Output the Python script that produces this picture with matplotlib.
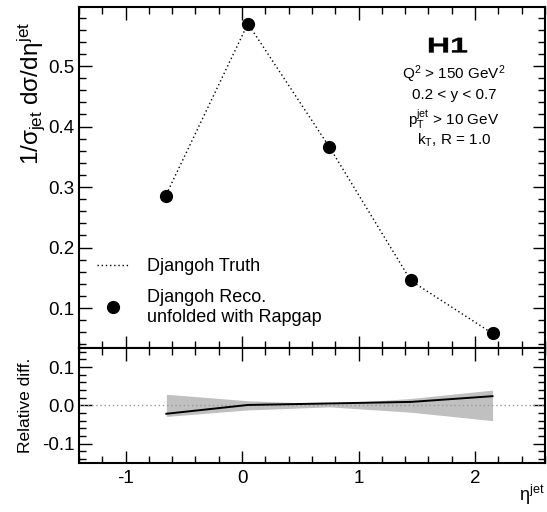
import matplotlib
matplotlib.use("Agg")
import matplotlib.pyplot as plt
import matplotlib.transforms as mtransforms
from matplotlib.ticker import MultipleLocator
from matplotlib.textpath import TextPath
from matplotlib.patches import PathPatch
from matplotlib.font_manager import FontProperties

plt.rcParams['font.family'] = ['Liberation Sans', 'DejaVu Sans']
plt.rcParams['mathtext.fontset'] = 'custom'
plt.rcParams['mathtext.rm'] = 'Liberation Sans'
plt.rcParams['mathtext.it'] = 'Liberation Sans'

# Jet pseudorapidity bin centres
eta = [-0.65, 0.05, 0.75, 1.45, 2.15]
# Normalised cross sections
truth = [0.288, 0.570, 0.366, 0.145, 0.058]
reco_unfolded = [0.286, 0.570, 0.367, 0.146, 0.058]
# Relative difference and its uncertainty band
rel_diff = [-0.022, 0.001, 0.005, 0.009, 0.024]
rel_band = [0.029, 0.012, 0.004, 0.018, 0.040]

fig = plt.figure(figsize=(5.47, 5.12), dpi=100)
ax = fig.add_axes([0.1444, 0.3203, 0.8519, 0.6654])
axr = fig.add_axes([0.1444, 0.0963, 0.8519, 0.2240], sharex=ax)

for a in (ax, axr):
    for s in a.spines.values():
        s.set_linewidth(1.5)
    a.tick_params(which='both', direction='in', top=True, right=True,
                  width=1.0, labelsize=13.5)
    a.tick_params(which='major', length=9)
    a.tick_params(which='minor', length=5)
    a.xaxis.set_major_locator(MultipleLocator(1))
    a.xaxis.set_minor_locator(MultipleLocator(0.2))

# Upper panel
ax.plot(eta, truth, color='black', linestyle=(0, (1, 2)), linewidth=1.0,
        label='Djangoh Truth')
ax.plot(eta, reco_unfolded, 'o', color='black', markersize=8.5,
        label='Djangoh Reco.\nunfolded with Rapgap')
ax.set_xlim(-1.4, 2.6)
ax.set_ylim(0.034, 0.597)
ax.yaxis.set_major_locator(MultipleLocator(0.1))
ax.yaxis.set_minor_locator(MultipleLocator(0.02))
ax.tick_params(labelbottom=False)
ax.set_yticks([0.1, 0.2, 0.3, 0.4, 0.5])
ax.set_ylabel(r'1/$\sigma_{\rm jet}$ d$\sigma$/d$\eta^{\rm jet}$', fontsize=17.5,
              loc='top')
ax.yaxis.set_label_coords(-0.068, 0.96)

leg = ax.legend(loc='upper left', bbox_to_anchor=(0.012, 0.30), frameon=False,
                fontsize=13, handlelength=1.7, handletextpad=1.05,
                labelspacing=0.75, borderaxespad=0.3)

# Bold experiment tag, drawn as a path so it can be widened
fp = FontProperties(family='Liberation Sans', weight='bold')
tp = TextPath((0, 0), 'H1', size=1, prop=fp)
bb = tp.get_extents()
tag_tr = (mtransforms.Affine2D()
          .translate(-(bb.x0 + bb.width / 2), -(bb.y0 + bb.height / 2))
          .scale(38.0 / bb.width, 14.5 / bb.height)
          + mtransforms.ScaledTranslation(0.792, 0.889, ax.transAxes))
ax.add_patch(PathPatch(tp, facecolor='black', edgecolor='black',
                       linewidth=0.3, transform=tag_tr))

info = [r'Q$^2$ > 150 GeV$^2$', '0.2 < y < 0.7',
        r'p$_{\rm T}^{\rm jet}$ > 10 GeV', r'k$_{\rm T}$, R = 1.0']
ys = [0.803, 0.742, 0.672, 0.610]
for t, yy in zip(info, ys):
    ax.text(0.805, yy, t, transform=ax.transAxes, ha='center', va='center',
            fontsize=11)

# Lower panel
axr.fill_between(eta, [-b for b in rel_band], rel_band, color='#c0c0c0',
                 linewidth=0)
axr.axhline(0.0, color='#999999', linestyle=(0, (1, 2)), linewidth=1.0)
axr.plot(eta, rel_diff, color='black', linewidth=1.4)
axr.set_ylim(-0.15, 0.15)
axr.yaxis.set_major_locator(MultipleLocator(0.1))
axr.yaxis.set_minor_locator(MultipleLocator(0.02))
axr.set_yticks([-0.1, 0.0, 0.1])
axr.set_yticklabels(['-0.1', '0.0', '0.1'])
axr.set_xticks([-1, 0, 1, 2])
axr.set_xticklabels(['-1', '0', '1', '2'])
axr.tick_params(axis='x', pad=5)
axr.set_ylabel('Relative diff.', fontsize=12.5, labelpad=6)
axr.set_xlabel(r'$\eta^{\rm jet}$', fontsize=13, loc='right')
axr.xaxis.set_label_coords(1.0, -0.18)

fig.savefig('out.png', dpi=100)
